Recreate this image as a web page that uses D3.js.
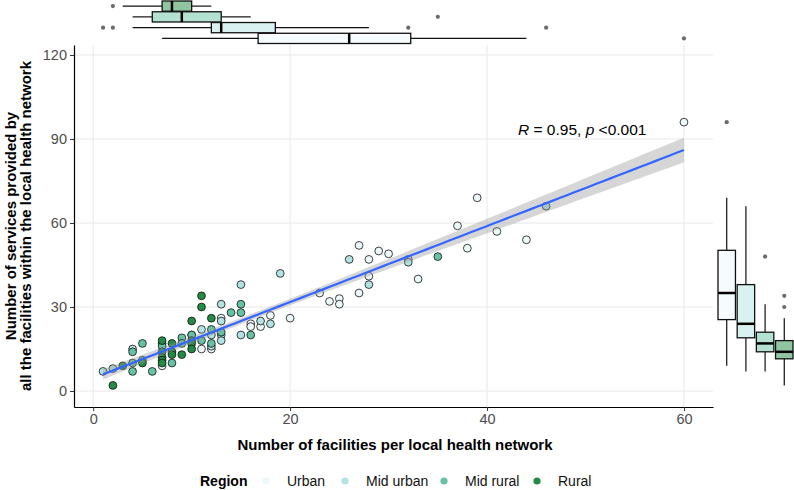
<!DOCTYPE html>
<html>
<head>
<meta charset="utf-8">
<script src="https://cdn.jsdelivr.net/npm/d3@7"></script>
<style>
  body { margin: 0; background: #fff; }
  svg { font-family: "Liberation Sans", Arial, sans-serif; }
</style>
</head>
<body>
<div id="chart"></div>
<script>
// Data: [facilities, services] per local health network, by region
const urban = [[60,96],[39,69],[37,59],[41,57],[38,51],[44,54],[32,47],[33,40],[27,52],[29,50],
  [30,49],[28,47],[28,41],[27,35],[23,35],[24,32],[25,33],[25,31],[20,26],[18,27],[17,23],
  [16,24],[16,23],[13,26],[12,15],[11,15],[10,20],[7,9]];
const midUrban = [[1,7],[2,8],[4,15],[11,22],[12,16],[12,20],[13,31],[13,20],[13,18],[13,25],
  [15,38],[15,20],[17,25],[18,24],[19,42],[26,47],[28,38],[32,46],[46,66]];
const midRural = [[4,14],[4,10],[4,7],[5,17],[5,11],[6,7],[7,17],[7,16],[8,10],[9,19],[9,17],
  [10,20],[11,18],[12,17],[12,22],[13,21],[14,28],[15,28],[15,31],[16,20],[35,48]];
const rural = [[2,2],[3,9],[5,10],[7,18],[7,14],[7,12],[7,11],[7,10],[8,17],[8,14],[8,13],
  [9,13],[10,25],[10,18],[10,17],[10,15],[11,34],[11,30],[12,26]];

const regions = ["Urban", "Mid urban", "Mid rural", "Rural"];
const regionColors = ["#edf8fb", "#b2e2e2", "#66c2a4", "#238b45"];
const xTicks = [0, 20, 40, 60];
const yTicks = [0, 30, 60, 90, 120];
const corLabel = {R: "0.95", p: "0.001"};

const seriesByRegion = {"Urban": urban, "Mid urban": midUrban, "Mid rural": midRural, "Rural": rural};
const points = [];
regions.forEach(r => seriesByRegion[r].forEach(d => points.push({x: d[0], y: d[1], region: r})));

const W = 794, H = 490;
const svg = d3.select("#chart").append("svg")
  .attr("width", W).attr("height", H);

// main panel
const panel = {left: 74, right: 713, top: 45, bottom: 407};
const x = d3.scaleLinear().domain([-1.95, 62.95]).range([panel.left, panel.right]);
const y = d3.scaleLinear().domain([-5.71, 123.57]).range([panel.bottom, panel.top]);
const color = d3.scaleOrdinal().domain(regions).range(regionColors);
const boxFill = r => d3.interpolateRgb("#ffffff", color(r))(0.5);

// grid
svg.append("g").selectAll("line").data(xTicks).enter().append("line")
  .attr("x1", d => x(d)).attr("x2", d => x(d))
  .attr("y1", panel.top).attr("y2", panel.bottom)
  .style("stroke", "#e8e8e8").style("stroke-width", 1);
svg.append("g").selectAll("line").data(yTicks).enter().append("line")
  .attr("y1", d => y(d)).attr("y2", d => y(d))
  .attr("x1", panel.left).attr("x2", panel.right)
  .style("stroke", "#e8e8e8").style("stroke-width", 1);

// axes
const xAxis = svg.append("g")
  .attr("transform", `translate(0,${panel.bottom})`)
  .call(d3.axisBottom(x).tickValues(xTicks).tickSize(4).tickSizeOuter(0).tickPadding(3));
const yAxis = svg.append("g")
  .attr("transform", `translate(${panel.left},0)`)
  .call(d3.axisLeft(y).tickValues(yTicks).tickSize(4).tickSizeOuter(0).tickPadding(3));
[xAxis, yAxis].forEach(a => {
  a.select(".domain").style("stroke", "#000").style("stroke-width", 1.2);
  a.selectAll(".tick line").style("stroke", "#333").style("stroke-width", 1);
  a.selectAll(".tick text").style("font-size", "14.5px").style("fill", "#4d4d4d")
    .style("font-family", "'Liberation Sans', Arial, sans-serif");
});

// points
svg.append("g").selectAll("circle").data(points).enter().append("circle")
  .attr("cx", d => x(d.x)).attr("cy", d => y(d.y)).attr("r", 3.9)
  .style("fill", d => color(d.region))
  .style("stroke", "#111").style("stroke-width", 0.8);

// linear fit with 95% confidence band
const n = points.length;
const mx = d3.mean(points, d => d.x), my = d3.mean(points, d => d.y);
const sxx = d3.sum(points, d => (d.x - mx) ** 2);
const sxy = d3.sum(points, d => (d.x - mx) * (d.y - my));
const slope = sxy / sxx, intercept = my - slope * mx;
const sse = d3.sum(points, d => (d.y - intercept - slope * d.x) ** 2);
const s = Math.sqrt(sse / (n - 2));
const tval = 1.988;
const [xmin, xmax] = d3.extent(points, d => d.x);
const fit = d3.range(80).map(i => {
  const xv = xmin + (xmax - xmin) * i / 79;
  const yv = intercept + slope * xv;
  const se = s * Math.sqrt(1 / n + (xv - mx) ** 2 / sxx);
  return {x: xv, y: yv, lo: yv - tval * se, hi: yv + tval * se};
});
svg.append("path").datum(fit)
  .attr("d", d3.area().x(d => x(d.x)).y0(d => y(d.lo)).y1(d => y(d.hi)))
  .style("fill", "#999999").style("fill-opacity", 0.4);
svg.append("path").datum(fit)
  .attr("d", d3.line().x(d => x(d.x)).y(d => y(d.y)))
  .style("fill", "none").style("stroke", "#3366ff").style("stroke-width", 2.2);

// correlation label
const lab = svg.append("text").attr("x", 518).attr("y", 135)
  .style("font-size", "15.5px").style("fill", "#000");
lab.append("tspan").style("font-style", "italic").text("R");
lab.append("tspan").text(` = ${corLabel.R}, `);
lab.append("tspan").style("font-style", "italic").text("p");
lab.append("tspan").text(` <${corLabel.p}`);

// axis titles
svg.append("text").attr("x", 395).attr("y", 450)
  .attr("text-anchor", "middle").style("font-size", "15px").style("font-weight", "bold")
  .text("Number of facilities per local health network");
const yt = svg.append("text").attr("transform", "translate(0,226) rotate(-90)")
  .attr("text-anchor", "middle").style("font-size", "15px").style("font-weight", "bold");
yt.append("tspan").attr("x", 0).attr("y", 16).text("Number of services provided by");
yt.append("tspan").attr("x", 0).attr("y", 31).text("all the facilities within the local health network");

// boxplot statistics (ggplot style)
function boxStats(vals) {
  const v = vals.slice().sort(d3.ascending);
  const q1 = d3.quantile(v, 0.25), med = d3.quantile(v, 0.5), q3 = d3.quantile(v, 0.75);
  const iqr = q3 - q1;
  const inside = v.filter(d => d >= q1 - 1.5 * iqr && d <= q3 + 1.5 * iqr);
  return {q1, med, q3, lo: d3.min(inside), hi: d3.max(inside),
    out: v.filter(d => d < q1 - 1.5 * iqr || d > q3 + 1.5 * iqr)};
}

// top marginal boxplots (facilities)
const topBand = d3.scaleBand().domain(regions.slice().reverse()).range([1, 43.5]).paddingInner(0.05);
regions.forEach(r => {
  const st = boxStats(seriesByRegion[r].map(d => d[0]));
  const cy = topBand(r) + topBand.bandwidth() / 2;
  const g = svg.append("g");
  g.append("line").attr("x1", x(st.lo)).attr("x2", x(st.q1)).attr("y1", cy).attr("y2", cy)
    .style("stroke", "#111").style("stroke-width", 1.2);
  g.append("line").attr("x1", x(st.q3)).attr("x2", x(st.hi)).attr("y1", cy).attr("y2", cy)
    .style("stroke", "#111").style("stroke-width", 1.2);
  g.append("rect").attr("x", x(st.q1)).attr("width", x(st.q3) - x(st.q1))
    .attr("y", topBand(r)).attr("height", topBand.bandwidth())
    .style("fill", boxFill(r)).style("stroke", "#111").style("stroke-width", 1.3);
  g.append("line").attr("x1", x(st.med)).attr("x2", x(st.med))
    .attr("y1", topBand(r)).attr("y2", topBand(r) + topBand.bandwidth())
    .style("stroke", "#000").style("stroke-width", 2.5);
  g.selectAll("circle").data(st.out).enter().append("circle")
    .attr("cx", d => x(d)).attr("cy", cy).attr("r", 2.1).style("fill", "#6b6b6b");
});

// right marginal boxplots (services)
const rightBand = d3.scaleBand().domain(regions).range([718, 793]).paddingInner(0.09);
regions.forEach(r => {
  const st = boxStats(seriesByRegion[r].map(d => d[1]));
  const cx = rightBand(r) + rightBand.bandwidth() / 2;
  const g = svg.append("g");
  g.append("line").attr("x1", cx).attr("x2", cx).attr("y1", y(st.lo)).attr("y2", y(st.q1))
    .style("stroke", "#111").style("stroke-width", 1.2);
  g.append("line").attr("x1", cx).attr("x2", cx).attr("y1", y(st.q3)).attr("y2", y(st.hi))
    .style("stroke", "#111").style("stroke-width", 1.2);
  g.append("rect").attr("x", rightBand(r)).attr("width", rightBand.bandwidth())
    .attr("y", y(st.q3)).attr("height", y(st.q1) - y(st.q3))
    .style("fill", boxFill(r)).style("stroke", "#111").style("stroke-width", 1.3);
  g.append("line").attr("y1", y(st.med)).attr("y2", y(st.med))
    .attr("x1", rightBand(r)).attr("x2", rightBand(r) + rightBand.bandwidth())
    .style("stroke", "#000").style("stroke-width", 2.5);
  g.selectAll("circle").data(st.out).enter().append("circle")
    .attr("cx", cx).attr("cy", d => y(d)).attr("r", 2.1).style("fill", "#6b6b6b");
});

// legend
const legend = svg.append("g");
legend.append("text").attr("x", 200).attr("y", 486)
  .style("font-size", "14px").style("font-weight", "bold").text("Region");
const keyX = [266, 345, 444, 537];
regions.forEach((r, i) => {
  legend.append("circle").attr("cx", keyX[i]).attr("cy", 481).attr("r", 3.6)
    .style("fill", color(r));
  legend.append("text").attr("x", keyX[i] + 21).attr("y", 486)
    .style("font-size", "14px").style("fill", "#111").text(r);
});
</script>
</body>
</html>
